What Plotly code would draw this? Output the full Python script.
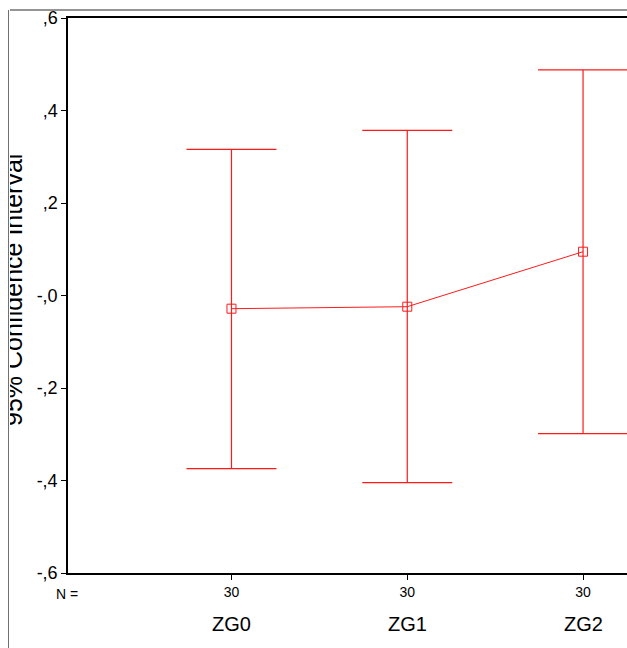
import plotly.graph_objects as go

# data
groups = ["ZG0", "ZG1", "ZG2"]
n_counts = ["30", "30", "30"]
means = [-0.0285, -0.0242, 0.0947]
upper = [0.316, 0.357, 0.488]
lower = [-0.3745, -0.4048, -0.2988]
ytick_vals = [-0.6, -0.4, -0.2, 0.0, 0.2, 0.4, 0.6]
ytick_text = ["-,6", "-,4", "-,2", "-,0", ",2", ",4", ",6"]

W, H = 627, 648
L, R, T, B = 68, 0, 18, 75
pw, ph = W - L - R, H - T - B

def px_x(p):
    return (p - L) / pw

def px_y(p):
    return (H - B - p) / ph

xs = list(range(len(groups)))
red = "#ff1a1a"
font = "Liberation Sans, Arial, sans-serif"

fig = go.Figure()
fig.add_trace(go.Scatter(
    x=xs, y=means, mode="lines+markers",
    line=dict(color=red, width=1),
    marker=dict(symbol="square-open", size=9, color=red, line=dict(width=1, color=red)),
    error_y=dict(type="data", symmetric=False,
                 array=[u - m for u, m in zip(upper, means)],
                 arrayminus=[m - l for m, l in zip(means, lower)],
                 color=red, thickness=1.2, width=45),
    showlegend=False, cliponaxis=False,
))

fig.update_layout(
    width=W, height=H,
    margin=dict(l=L, r=R, t=T, b=B),
    paper_bgcolor="white", plot_bgcolor="white",
    font=dict(family=font, color="black"),
    xaxis=dict(range=[-0.93, 2.25], tickvals=xs, ticktext=n_counts,
               showgrid=False, zeroline=False, showline=True, linecolor="black", linewidth=1.5,
               mirror=True, ticks="outside", ticklen=5, tickcolor="black", tickwidth=1,
               tickfont=dict(size=14, family=font)),
    yaxis=dict(range=[-0.6, 0.6], tickvals=ytick_vals, ticktext=ytick_text,
               showgrid=False, zeroline=False, showline=True, linecolor="black", linewidth=1.5,
               ticks="outside", ticklen=5, tickcolor="black", tickwidth=1,
               tickfont=dict(size=18, family=font)),
)

# group labels
for x, g in zip(xs, groups):
    fig.add_annotation(x=x, xref="x", y=px_y(624), yref="paper", text=g, showarrow=False,
                       font=dict(size=20, family=font), xanchor="center", yanchor="middle")
fig.add_annotation(x=px_x(67), xref="paper", y=px_y(594), yref="paper", text="N =", showarrow=False,
                   font=dict(size=14, family=font), xanchor="center", yanchor="middle")

# y-axis title (partly cut off, as in the reference)
fig.add_annotation(x=px_x(29), xref="paper", y=px_y(290), yref="paper",
                   text="95% Confidence Interval", textangle=-90, showarrow=False,
                   font=dict(size=25, family=font), xanchor="right", yanchor="middle")
# cover box cutting the title at the frame
fig.add_annotation(x=px_x(9.5), xref="paper", y=0.5, yref="paper", text=" ", showarrow=False,
                   width=60, height=900, bgcolor="white", borderwidth=0, borderpad=0,
                   xanchor="right", yanchor="middle")

# outer frame
fig.add_annotation(x=px_x(9), xref="paper", y=px_y(10), yref="paper", text=" ", showarrow=False,
                   width=1, height=700, bgcolor="#707070", borderwidth=0, borderpad=0,
                   xanchor="right", yanchor="top")
fig.add_shape(type="line", xref="paper", yref="paper", x0=px_x(8), x1=px_x(640),
              y0=px_y(10), y1=px_y(10), line=dict(color="#707070", width=1.5))

fig.write_html("out.html")
